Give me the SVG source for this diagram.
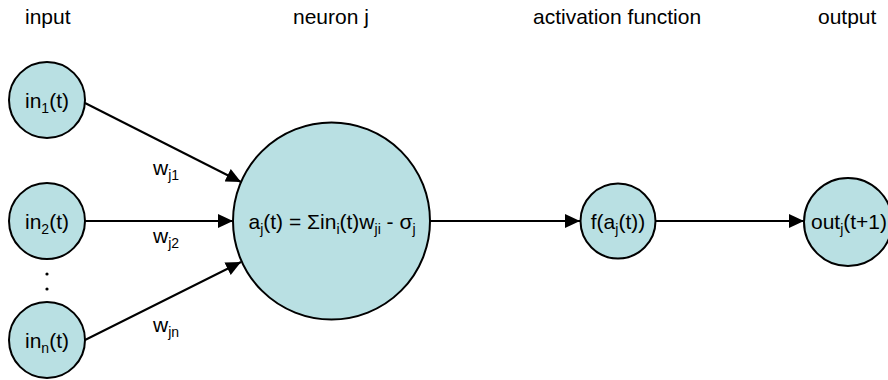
<svg xmlns="http://www.w3.org/2000/svg" width="888" height="380" viewBox="0 0 888 380">
<style>
text{font-family:"Liberation Sans",Arial,sans-serif;font-size:21px;fill:#000}
.node{fill:#b9e0e3;stroke:#000;stroke-width:2}
.c{text-anchor:middle}
.sub{font-size:14px}
.edge{stroke:#000;stroke-width:2;fill:none;marker-end:url(#ah)}
</style>
<defs>
<marker id="ah" markerUnits="userSpaceOnUse" markerWidth="16" markerHeight="14" refX="15" refY="7" orient="auto">
<path d="M0,0 L15,7 L0,14 z" fill="#000"/>
</marker>
</defs>
<g id="headers">
<text x="25" y="24">input</text>
<text x="293" y="24">neuron j</text>
<text x="533" y="24">activation function</text>
<text x="818" y="24">output</text>
</g>
<g id="connectors">
<line class="edge" x1="85" y1="103" x2="241" y2="182"/>
<line class="edge" x1="85" y1="221" x2="233" y2="221"/>
<line class="edge" x1="85" y1="340" x2="241" y2="262"/>
<line class="edge" x1="430" y1="221" x2="580" y2="221"/>
<line class="edge" x1="655" y1="221" x2="804" y2="221"/>
<text x="153" y="175">w<tspan class="sub" dy="5">j1</tspan></text>
<text x="153" y="243">w<tspan class="sub" dy="5">j2</tspan></text>
<text x="153" y="332">w<tspan class="sub" dy="5">jn</tspan></text>
</g>
<g id="in1">
<circle class="node" cx="47" cy="100" r="38"/>
<text class="c" x="47" y="108">in<tspan class="sub" dy="5">1</tspan><tspan dy="-5">(t)</tspan></text>
</g>
<g id="in2">
<circle class="node" cx="47" cy="221" r="38"/>
<text class="c" x="47" y="229">in<tspan class="sub" dy="5">2</tspan><tspan dy="-5">(t)</tspan></text>
</g>
<g id="dots">
<circle cx="47" cy="274" r="1.6" fill="#000"/>
<circle cx="47" cy="289" r="1.6" fill="#000"/>
</g>
<g id="inn">
<circle class="node" cx="47" cy="340" r="38"/>
<text class="c" x="47" y="348">in<tspan class="sub" dy="5">n</tspan><tspan dy="-5">(t)</tspan></text>
</g>
<g id="neuron">
<circle class="node" cx="331.5" cy="221" r="98.5"/>
<text class="c" x="332" y="229">a<tspan class="sub" dy="5">j</tspan><tspan dy="-5">(t) = Σin</tspan><tspan class="sub" dy="5">i</tspan><tspan dy="-5">(t)w</tspan><tspan class="sub" dy="5">ji</tspan><tspan dy="-5"> - σ</tspan><tspan class="sub" dy="5">j</tspan></text>
</g>
<g id="activation">
<circle class="node" cx="618" cy="221" r="37.5"/>
<text class="c" x="618" y="229">f(a<tspan class="sub" dy="5">j</tspan><tspan dy="-5">(t))</tspan></text>
</g>
<g id="output">
<circle class="node" cx="848" cy="222" r="44"/>
<text class="c" x="849" y="229">out<tspan class="sub" dy="5">j</tspan><tspan dy="-5">(t+1)</tspan></text>
</g>
</svg>
